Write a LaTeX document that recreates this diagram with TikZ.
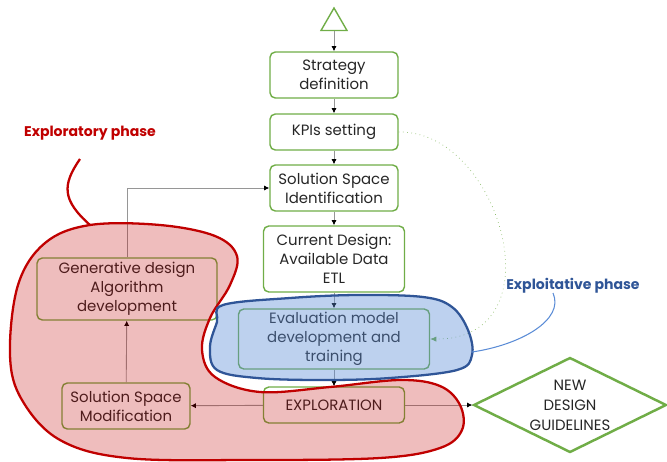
\documentclass[tikz,border=0pt]{standalone}
\usepackage{fontspec}
\setmainfont{Poppins}
\usepackage{tikz}
\usetikzlibrary{arrows.meta,positioning,calc,shapes.geometric}
\definecolor{LeafGreen}{RGB}{112,173,71}
\definecolor{DeepRed}{RGB}{192,0,0}
\definecolor{PhaseBlue}{RGB}{47,85,151}
\definecolor{LightBlue}{RGB}{91,140,214}
\definecolor{LineGray}{RGB}{150,150,150}

\begin{document}
\begin{tikzpicture}[
      x=0.02cm,y=-0.02cm,
      sNode/.style={draw=LeafGreen,fill=white,rounded corners=3pt,
                    minimum width=2.56cm,minimum height=0.92cm,inner sep=1pt,
                    font=\fontsize{8.5}{10.8}\selectfont,align=center,text=black!85,line width=0.8pt},
      ar/.style={-{Latex[length=3pt,width=3pt,color=black]},line width=0.5pt,color=LineGray},
      dotar/.style={-{Latex[length=3.5pt,width=3pt,color=LeafGreen]},dotted,line width=0.4pt,color=LeafGreen!80},
      blob/.style={line width=1.3pt},
      phase/.style={font=\fontsize{8}{10}\selectfont\bfseries}
    ]
    \useasboundingbox (0,0) rectangle (667,461);

    % Main column (top to bottom)
    \node(start)[draw=LeafGreen,line width=0.8pt,regular polygon,regular polygon sides=3,
                 minimum size=0.6cm,inner sep=0pt] at (334,23) {};
    \node(n1)[sNode] at (334,75) {Strategy\\definition};
    \node(n2)[sNode,minimum height=0.72cm] at (334,132) {KPIs setting};
    \node(n3)[sNode] at (334,188) {Solution Space\\Identification};
    \node(n4)[sNode,minimum width=2.82cm,minimum height=1.32cm] at (334,259) {Current Design:\\Available Data\\ETL};
    \node(n5)[sNode,minimum width=3.82cm,minimum height=1.2cm] at (334,339) {Evaluation model\\development and\\training};
    \node(n6)[sNode,minimum width=2.82cm,minimum height=0.72cm] at (334,405) {EXPLORATION};

    % Left loop
    \node(n7)[sNode] at (126,406) {Solution Space\\Modification};
    \node(n8)[sNode,minimum width=3.6cm,minimum height=1.24cm] at (127,289) {Generative design\\Algorithm\\development};

    % Outcome
    \node(n9)[draw=LeafGreen,fill=white,diamond,aspect=2,line width=1.4pt,inner sep=0pt,
              minimum width=3.86cm,minimum height=1.9cm,align=center,text=black!85,
              font=\fontsize{8.5}{11.3}\selectfont] at (570,405) {NEW\\DESIGN\\GUIDELINES};

    % Column arrows
    \draw[ar] (start.south) -- (n1.north);
    \draw[ar] (n1) -- (n2);
    \draw[ar] (n2) -- (n3);
    \draw[ar] (n3) -- (n4);
    \draw[ar] (n4) -- (n5);
    \draw[ar] (n5) -- (n6);

    % Loop arrows
    \draw[ar] (n6) -- (n7);
    \draw[ar] (n7) -- (n8);
    \draw[ar] (n8.north) |- (n3.west);
    \draw[ar] (n6) -- (n9);

    % KPIs feed the evaluation model
    \draw[dotar] (n2.east) .. controls (500,130) and (560,340) .. (n5.east);

    % Exploratory phase region
    \draw[blob,draw=DeepRed,fill=DeepRed,fill opacity=0.26] plot[smooth cycle,tension=0.6] coordinates {
      (90,225) (160,225) (215,236) (237,256) (230,285) (210,318) (202,350) (215,377)
      (260,392) (330,387) (400,380) (440,386) (460,405) (462,430) (440,448) (380,458)
      (250,460) (127,458) (60,440) (22,400) (10,355) (18,285) (45,243)};
    \draw[DeepRed,line width=1.3pt] (80,159) .. controls (62,185) and (62,200) .. (90,225);
    \node(lexpl)[phase,text=DeepRed] at (90,133) {Exploratory phase};

    % Exploitative phase region
    \draw[blob,draw=PhaseBlue,fill=LightBlue,fill opacity=0.4] plot[smooth cycle,tension=0.6] coordinates {
      (223,305) (290,298) (357,295) (423,297) (452,307) (468,330) (472,355) (457,370)
      (390,378) (323,380) (257,378) (217,370) (210,347) (217,322)};
    \draw[LightBlue,line width=0.6pt] (472,352) .. controls (520,345) and (565,320) .. (553,293);
    \node(lexploit)[phase,text=PhaseBlue] at (573,286) {Exploitative phase};
  \end{tikzpicture}
\end{document}
